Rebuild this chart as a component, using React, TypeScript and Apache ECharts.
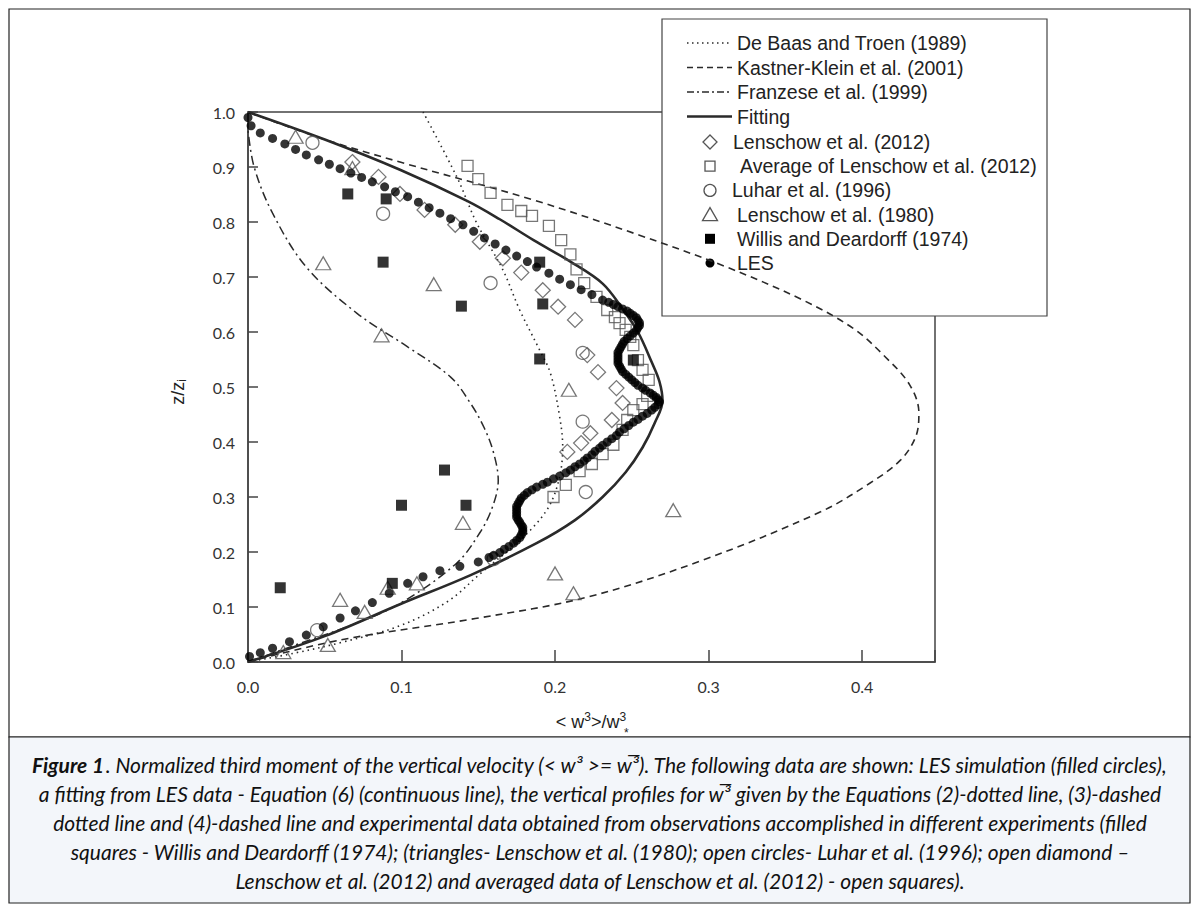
import React, { useEffect, useRef } from "react";
import * as echarts from "echarts";

// ---------- data (x = <w3>/w*3, y = z/zi) ----------
const xTickLabels = ["0.0", "0.1", "0.2", "0.3", "0.4"];
const yTickLabels = ["0.0", "0.1", "0.2", "0.3", "0.4", "0.5", "0.6", "0.7", "0.8", "0.9", "1.0"];

const fitting: number[][] = [
  [0, 0], [0.05, 0.047], [0.099, 0.105], [0.145, 0.158], [0.188, 0.216], [0.213, 0.258], [0.231, 0.3],
  [0.246, 0.345], [0.257, 0.39], [0.265, 0.435], [0.27, 0.475], [0.268, 0.51], [0.263, 0.545], [0.254, 0.6],
  [0.244, 0.642], [0.231, 0.688], [0.21, 0.728], [0.186, 0.767], [0.164, 0.805], [0.143, 0.838],
  [0.099, 0.895], [0.05, 0.95], [0, 1.0],
];

const deBaas: number[][] = [
  [0, 0], [0.03, 0.016], [0.06, 0.035], [0.099, 0.066], [0.13, 0.11], [0.151, 0.16],
  [0.184, 0.24], [0.199, 0.3], [0.205, 0.39], [0.203, 0.446], [0.197, 0.525],
  [0.19, 0.567], [0.177, 0.64], [0.166, 0.713], [0.149, 0.798], [0.136, 0.882], [0.114, 1.0],
];

const kastner: number[][] = [
  [0, 0], [0.06, 0.04], [0.148, 0.079], [0.221, 0.118], [0.296, 0.185], [0.373, 0.273],
  [0.405, 0.325], [0.425, 0.367], [0.435, 0.41], [0.437, 0.453], [0.431, 0.504],
  [0.415, 0.555], [0.394, 0.607], [0.36, 0.66], [0.31, 0.72], [0.255, 0.776],
  [0.186, 0.84], [0.099, 0.909], [0.05, 0.95], [0, 1.0],
];

const franzese: number[][] = [
  [0, 0], [0.03, 0.03], [0.07, 0.07], [0.1, 0.108], [0.136, 0.18], [0.151, 0.235],
  [0.159, 0.28], [0.163, 0.33], [0.16, 0.38], [0.154, 0.425], [0.145, 0.47],
  [0.132, 0.518], [0.104, 0.573], [0.071, 0.634], [0.038, 0.718], [0.016, 0.816],
  [0.004, 0.9], [0, 0.967],
];

const lenschow2012: number[][] = [
  [0.068, 0.909], [0.085, 0.882], [0.099, 0.851], [0.115, 0.822], [0.135, 0.795],
  [0.151, 0.764], [0.166, 0.734], [0.178, 0.708], [0.192, 0.676], [0.202, 0.646],
  [0.213, 0.622], [0.221, 0.558], [0.228, 0.527], [0.24, 0.498], [0.244, 0.471],
  [0.237, 0.44], [0.223, 0.416], [0.217, 0.398], [0.208, 0.382],
];

const lenschowAvg: number[][] = [
  [0.143, 0.902], [0.15, 0.878], [0.158, 0.853], [0.169, 0.831], [0.178, 0.82],
  [0.185, 0.811], [0.196, 0.793], [0.204, 0.767], [0.21, 0.741], [0.214, 0.714],
  [0.219, 0.689], [0.227, 0.664], [0.234, 0.64], [0.239, 0.627], [0.242, 0.616],
  [0.246, 0.604], [0.249, 0.591], [0.251, 0.576], [0.254, 0.549], [0.257, 0.531],
  [0.261, 0.513], [0.26, 0.484], [0.257, 0.469], [0.251, 0.458], [0.247, 0.44],
  [0.244, 0.422], [0.238, 0.395], [0.231, 0.378], [0.224, 0.36], [0.216, 0.347],
  [0.207, 0.322], [0.199, 0.3],
];

const luhar: number[][] = [
  [0.042, 0.944], [0.088, 0.815], [0.158, 0.689], [0.218, 0.562], [0.218, 0.437],
  [0.22, 0.309], [0.16, 0.187], [0.045, 0.058],
];

const lenschow1980: number[][] = [
  [0.031, 0.955], [0.068, 0.898], [0.049, 0.725], [0.121, 0.687], [0.087, 0.594],
  [0.209, 0.495], [0.14, 0.253], [0.277, 0.276], [0.2, 0.161], [0.212, 0.125],
  [0.11, 0.143], [0.091, 0.135], [0.06, 0.113], [0.076, 0.091], [0.052, 0.031], [0.023, 0.018],
];

const willis: number[][] = [
  [0.065, 0.851], [0.09, 0.842], [0.088, 0.727], [0.139, 0.647], [0.19, 0.727],
  [0.192, 0.651], [0.19, 0.551], [0.128, 0.349], [0.1, 0.285], [0.142, 0.285],
  [0.094, 0.143], [0.021, 0.135], [0.251, 0.549],
];

const les: number[][] = [
  [0.0, 0.99], [0.002, 0.975], [0.008, 0.962], [0.016, 0.952], [0.024, 0.942], [0.031, 0.932],
  [0.038, 0.922], [0.046, 0.913], [0.053, 0.905], [0.06, 0.897], [0.067, 0.889], [0.074, 0.881],
  [0.081, 0.873], [0.089, 0.864], [0.096, 0.855], [0.104, 0.846], [0.111, 0.836], [0.118, 0.826],
  [0.125, 0.816], [0.132, 0.806], [0.14, 0.795], [0.147, 0.783], [0.154, 0.771], [0.161, 0.76],
  [0.168, 0.749], [0.175, 0.738], [0.182, 0.728], [0.188, 0.718], [0.196, 0.707], [0.203, 0.696],
  [0.21, 0.686], [0.217, 0.677], [0.224, 0.668], [0.231, 0.658], [0.235, 0.654], [0.238, 0.65],
  [0.241, 0.646], [0.244, 0.642], [0.247, 0.638], [0.249, 0.634], [0.251, 0.63], [0.253, 0.626],
  [0.254, 0.621], [0.255, 0.617], [0.255, 0.612], [0.254, 0.608], [0.253, 0.603], [0.251, 0.598],
  [0.249, 0.593], [0.247, 0.588], [0.245, 0.583], [0.244, 0.578], [0.243, 0.573], [0.242, 0.568],
  [0.241, 0.563], [0.241, 0.558], [0.241, 0.553], [0.241, 0.548], [0.241, 0.543], [0.242, 0.538],
  [0.243, 0.533], [0.244, 0.528], [0.246, 0.523], [0.248, 0.518], [0.25, 0.513], [0.252, 0.508],
  [0.254, 0.503], [0.257, 0.498], [0.259, 0.494], [0.262, 0.489], [0.264, 0.485], [0.266, 0.481],
  [0.267, 0.477], [0.268, 0.473], [0.267, 0.468], [0.265, 0.463], [0.263, 0.458], [0.26, 0.452],
  [0.257, 0.447], [0.254, 0.441], [0.251, 0.436], [0.248, 0.43], [0.245, 0.424], [0.242, 0.418],
  [0.24, 0.412], [0.237, 0.406], [0.234, 0.4], [0.231, 0.394], [0.229, 0.389], [0.226, 0.383],
  [0.224, 0.377], [0.221, 0.371], [0.219, 0.366], [0.216, 0.36], [0.213, 0.355], [0.21, 0.349],
  [0.207, 0.344], [0.203, 0.338], [0.199, 0.333], [0.195, 0.327], [0.192, 0.323], [0.188, 0.318],
  [0.185, 0.313], [0.182, 0.308], [0.18, 0.303], [0.178, 0.298], [0.177, 0.293], [0.176, 0.288],
  [0.175, 0.283], [0.175, 0.278], [0.175, 0.273], [0.175, 0.268], [0.175, 0.263], [0.176, 0.258],
  [0.177, 0.254], [0.178, 0.249], [0.179, 0.245], [0.179, 0.24], [0.179, 0.236], [0.178, 0.231],
  [0.177, 0.226], [0.175, 0.221], [0.173, 0.216], [0.17, 0.21], [0.167, 0.205], [0.164, 0.199],
  [0.16, 0.194], [0.157, 0.19], [0.15, 0.182], [0.138, 0.174], [0.125, 0.166], [0.114, 0.155],
  [0.104, 0.143], [0.092, 0.125], [0.081, 0.108], [0.07, 0.093], [0.06, 0.08], [0.049, 0.064],
  [0.038, 0.049], [0.027, 0.037], [0.016, 0.025], [0.008, 0.017], [0.001, 0.01],
];

const legendLines = [
  { label: "De Baas and Troen (1989)", dash: [1.5, 3.5], width: 1.5 },
  { label: "Kastner-Klein et al. (2001)", dash: [6, 4], width: 1.5 },
  { label: "Franzese et al. (1999)", dash: [7, 3, 2, 3], width: 1.5 },
  { label: "Fitting", dash: null as number[] | null, width: 2.6 },
];
const legendMarkers = [
  { label: "Lenschow et al. (2012)", kind: "diamond" },
  { label: "Average of Lenschow et al. (2012)", kind: "square" },
  { label: "Luhar et al. (1996)", kind: "circle" },
  { label: "Lenschow et al. (1980)", kind: "triangle" },
  { label: "Willis and Deardorff (1974)", kind: "fsquare" },
  { label: "LES", kind: "dot" },
];

const captionLines = [
  "{b|Figure 1}. Normalized third moment of the vertical velocity (< w³ >= w̅³). The following data are shown: LES simulation (filled circles),",
  "a fitting from LES data - Equation (6) (continuous line), the vertical profiles for w̅³ given by the Equations (2)-dotted line, (3)-dashed",
  "dotted line and (4)-dashed line and experimental data obtained from observations accomplished in different experiments (filled",
  "squares - Willis and Deardorff (1974); (triangles- Lenschow et al. (1980); open circles- Luhar et al. (1996); open diamond –",
  "Lenschow et al. (2012) and averaged data of Lenschow et al. (2012) - open squares).",
];

const GRID = { left: 248, top: 112, width: 687, height: 550 };
const XMAX = 0.4475;

function tickFmt(labels: string[]) {
  return (v: number) => {
    const s = v.toFixed(1);
    return Math.abs(v * 10 - Math.round(v * 10)) < 1e-6 && labels.includes(s) ? s : "";
  };
}

export default function App() {
  const ref = useRef<HTMLDivElement>(null);
  useEffect(() => {
    document.body.style.margin = "0";
    const chart = echarts.init(ref.current!, undefined, { renderer: "svg" });
    const ink = "#2a2a2a";
    const mk = "#555";
    const openStyle = { color: "rgba(255,255,255,0)", borderColor: mk, borderWidth: 1.3 };
    const lineSeries = (name: string, data: number[][], dash: any, width: number) => ({
      type: "line", name, data, smooth: 0.35, showSymbol: false, symbol: "none", silent: true,
      lineStyle: { color: ink, width, type: dash || "solid" }, z: 2,
    });

    const LF = 19.5;
    const legendEls: any[] = [];
    legendEls.push({
      type: "rect", shape: { x: 662, y: 19, width: 385, height: 297 },
      style: { fill: "#fff", stroke: "#444", lineWidth: 1.2 },
    });
    legendLines.forEach((l, i) => {
      const y = 43 + i * 24.5;
      legendEls.push({
        type: "line", shape: { x1: 687, y1: y, x2: 732, y2: y },
        style: { stroke: ink, lineWidth: l.width, lineDash: l.dash || undefined },
      });
      legendEls.push({
        type: "text", x: 737, y,
        style: { text: l.label, fontSize: LF, fontFamily: "Liberation Sans", fill: "#222", verticalAlign: "middle" },
      });
    });
    const textX = [733, 740, 732, 737, 737, 737];
    legendMarkers.forEach((m, i) => {
      const y = 142 + i * 24.2;
      const cx = 710;
      const st = { fill: "none", stroke: mk, lineWidth: 1.3 };
      if (m.kind === "diamond") legendEls.push({ type: "polygon", shape: { points: [[cx, y - 7], [cx + 7, y], [cx, y + 7], [cx - 7, y]] }, style: st });
      if (m.kind === "square") legendEls.push({ type: "rect", shape: { x: cx - 5, y: y - 5, width: 10, height: 10 }, style: st });
      if (m.kind === "circle") legendEls.push({ type: "circle", shape: { cx, cy: y, r: 6 }, style: st });
      if (m.kind === "triangle") legendEls.push({ type: "polygon", shape: { points: [[cx, y - 7], [cx + 7.5, y + 6], [cx - 7.5, y + 6]] }, style: st });
      if (m.kind === "fsquare") legendEls.push({ type: "rect", shape: { x: cx - 5, y: y - 5, width: 10, height: 10 }, style: { fill: "#000" } });
      if (m.kind === "dot") legendEls.push({ type: "circle", shape: { cx, cy: y, r: 4.5 }, style: { fill: "#000" } });
      legendEls.push({
        type: "text", x: textX[i], y,
        style: { text: m.label, fontSize: LF, fontFamily: "Liberation Sans", fill: "#222", verticalAlign: "middle" },
      });
    });

    const CF = 21;
    const captionEls: any[] = captionLines.map((t, i) => ({
      type: "text", x: 600, y: 764 + i * 29,
      style: {
        text: t, fontSize: CF, fontStyle: "italic", fontFamily: "Lato", fill: "#111",
        align: "center", verticalAlign: "middle",
        rich: { b: { fontWeight: "bold", fontStyle: "italic", fontSize: CF, fontFamily: "Lato", fill: "#111" } },
      },
    }));

    chart.setOption({
      animation: false,
      backgroundColor: "#fff",
      grid: { ...GRID, show: true, borderColor: "#444", borderWidth: 1.5, backgroundColor: "transparent" },
      xAxis: {
        type: "value", min: 0, max: XMAX, interval: 0.1,
        axisLine: { show: true, lineStyle: { color: "#444", width: 1.5 } },
        axisTick: { show: true, inside: true, length: 12, lineStyle: { color: "#444", width: 1.5 } },
        axisLabel: { margin: 16, color: "#333", fontSize: 16, fontFamily: "Lato", formatter: tickFmt(xTickLabels) },
        splitLine: { show: false },
      },
      yAxis: {
        type: "value", min: 0, max: 1, interval: 0.1,
        axisLine: { show: true, lineStyle: { color: "#444", width: 1.5 } },
        axisTick: { show: true, inside: true, length: 10, lineStyle: { color: "#444", width: 1.5 } },
        axisLabel: { margin: 13, color: "#333", fontSize: 16, fontFamily: "Lato", formatter: tickFmt(yTickLabels) },
        splitLine: { show: false },
      },
      series: [
        lineSeries("De Baas and Troen (1989)", deBaas, [1.5, 4], 1.6),
        lineSeries("Kastner-Klein et al. (2001)", kastner, [7, 5], 1.6),
        lineSeries("Franzese et al. (1999)", franzese, [9, 4, 2, 4], 1.5),
        lineSeries("Fitting", fitting, null, 2.6),
        { type: "scatter", name: "Average of Lenschow et al. (2012)", data: lenschowAvg, symbol: "rect", symbolSize: 11, itemStyle: openStyle, z: 3 },
        { type: "scatter", name: "Lenschow et al. (2012)", data: lenschow2012, symbol: "diamond", symbolSize: [15, 15], itemStyle: openStyle, z: 3 },
        { type: "scatter", name: "Luhar et al. (1996)", data: luhar, symbol: "circle", symbolSize: 13, itemStyle: openStyle, z: 3 },
        { type: "scatter", name: "Lenschow et al. (1980)", data: lenschow1980, symbol: "triangle", symbolSize: [15, 13], itemStyle: openStyle, z: 3 },
        { type: "scatter", name: "Willis and Deardorff (1974)", data: willis, symbol: "rect", symbolSize: 11, itemStyle: { color: "#000" }, z: 4 },
        { type: "scatter", name: "LES", data: les, symbol: "circle", symbolSize: 9, itemStyle: { color: "#000" }, z: 4 },
      ],
      graphic: [
        { type: "rect", z: 0, silent: true, shape: { x: 9, y: 9, width: 1181, height: 728 }, style: { fill: "none", stroke: "#222", lineWidth: 1.2 } },
        { type: "rect", z: 0, silent: true, shape: { x: 9, y: 737, width: 1181, height: 166 }, style: { fill: "#f3f6fa", stroke: "#222", lineWidth: 1.2 } },
        {
          type: "text", x: 591, y: 722,
          style: {
            text: "< w{sup|3}>/w{sup|3}", fontSize: 18, fontFamily: "Liberation Sans", fill: "#222",
            align: "center", verticalAlign: "middle",
            rich: { sup: { fontSize: 12, fontFamily: "Liberation Sans", fill: "#222", verticalAlign: "top", padding: [0, 0, 10, 0] } },
          },
        },
        { type: "text", x: 624, y: 733, style: { text: "*", fontSize: 12, fontFamily: "Liberation Sans", fill: "#222", verticalAlign: "middle" } },
        {
          type: "text", x: 178, y: 392, rotation: Math.PI / 2,
          style: {
            text: "z/z{sub|i}", fontSize: 18, fontFamily: "Liberation Sans", fill: "#222",
            align: "center", verticalAlign: "middle",
            rich: { sub: { fontSize: 12, fontFamily: "Liberation Sans", fill: "#222", verticalAlign: "bottom", padding: [8, 0, 0, 0] } },
          },
        },
        { type: "group", z: 100, children: legendEls },
        { type: "group", z: 100, children: captionEls },
      ],
    });
    return () => chart.dispose();
  }, []);
  return <div ref={ref} style={{ position: "fixed", left: 0, top: 0, width: 1199, height: 917 }} />;
}
